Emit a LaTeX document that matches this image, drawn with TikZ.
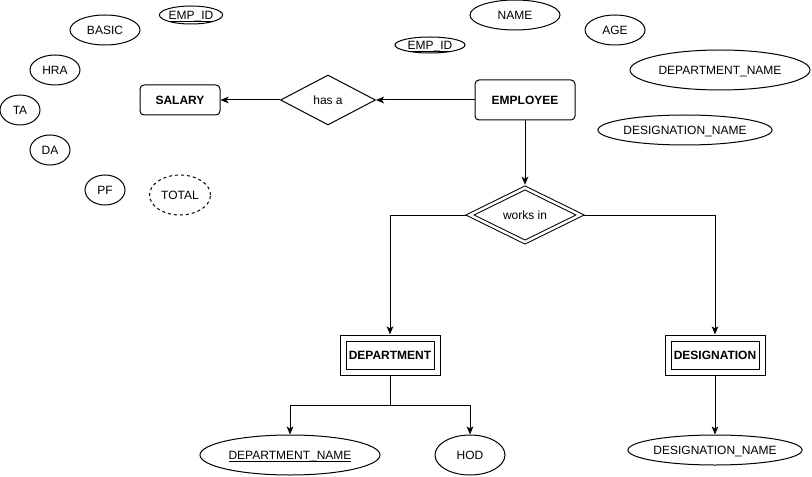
\documentclass[tikz,border=0pt]{standalone}
\usepackage{fontspec}
\setmainfont{Liberation Sans}
\usetikzlibrary{shapes.geometric,arrows.meta}

% key attribute: underline drawn at the height of the underscore glyph
\newcommand{\keyattr}[1]{\setbox0\hbox{#1}\rlap{\rule[-1.9pt]{\wd0}{0.45pt}}\box0}

\tikzset{
  base/.style={line width=0.75pt, font=\fontsize{9pt}{11pt}\selectfont, inner sep=0pt},
  attr/.style 2 args={base, draw, ellipse, text height=6.5pt, text depth=0pt,
    minimum width=#1*0.75pt, minimum height=#2*0.75pt},
  derived/.style 2 args={attr={#1}{#2}, dash pattern=on 2.25pt off 2.25pt},
  entity/.style 2 args={base, draw, rectangle, rounded corners=3pt, font=\fontsize{9pt}{11pt}\selectfont\bfseries,
    minimum width=#1*0.75pt, minimum height=#2*0.75pt},
  weakentity/.style={base, draw, rectangle, double, double distance=3.75pt, outer sep=2.7pt,
    font=\fontsize{9pt}{11pt}\selectfont\bfseries, minimum width=70.5pt, minimum height=25.5pt},
  relation/.style 2 args={base, draw, diamond, minimum width=#1*0.75pt, minimum height=#2*0.75pt},
  weakrelation/.style={base, draw, diamond, double, double distance=1.9pt, outer sep=1.7pt,
    minimum width=84pt, minimum height=42pt},
  arr/.style={line width=0.75pt, -{Stealth[length=6pt,width=5pt,inset=1.5pt]}},
}

\begin{document}
\begin{tikzpicture}[x=0.75pt, y=-0.75pt]
  % canvas
  \fill[white] (0,0) rectangle (812,477);
  \useasboundingbox (0,0) rectangle (812,477);

  % salary attributes
  \node[attr={70}{30}]  (basic)  at (105,30)  {BASIC};
  \node[attr={62}{18}]  (sempid) at (191,15)  {\keyattr{EMP\_ID}};
  \node[attr={50}{30}]  (hra)    at (55,70)   {HRA};
  \node[attr={40}{30}]  (ta)     at (20,110)  {TA};
  \node[attr={40}{30}]  (da)     at (50,150)  {DA};
  \node[attr={40}{30}]  (pf)     at (105,190) {PF};
  \node[derived={61}{40}] (total) at (180,195) {TOTAL};

  % employee attributes
  \node[attr={90}{30}]  (name)   at (515,15)  {NAME};
  \node[attr={70}{16}]  (eempid) at (430,45)  {\keyattr{EMP\_ID}};
  \node[attr={60}{30}]  (age)    at (615,30)  {AGE};
  \node[attr={180}{40}] (edname) at (720,70)  {DEPARTMENT\_NAME};
  \node[attr={174}{30}] (edesig) at (685,130) {DESIGNATION\_NAME};

  % entities and relationships
  \node[entity={80}{30}]  (sal)  at (180,100) {SALARY};
  \node[relation={95}{50}] (hasa) at (328,100) {has a};
  \node[entity={100}{40}] (emp)  at (525,100) {EMPLOYEE};
  \node[weakrelation] (works) at (525,215) {works in};
  \node[weakentity] (dept)  at (390,355) {DEPARTMENT};
  \node[weakentity] (desig) at (715,355) {DESIGNATION};

  % department / designation attributes
  \node[attr={180}{40}] (dname) at (290,455) {\keyattr{DEPARTMENT\_NAME}};
  \node[attr={70}{40}]  (hod)   at (470,455) {HOD};
  \node[attr={170}{30}] (gname) at (715,450) {DESIGNATION\_NAME};

  % connectors
  \draw[arr] (emp.west) -- (hasa.east);
  \draw[arr] (hasa.west) -- (sal.east);
  \draw[arr] (emp.south) -- (works.north);
  \draw[arr] (works.west) -| (dept.north);
  \draw[arr] (works.east) -| (desig.north);
  \draw[arr] (dept.south) -- ++(0,30) -| (dname.north);
  \draw[arr] (dept.south) -- ++(0,30) -| (hod.north);
  \draw[arr] (desig.south) -- (gname.north);
\end{tikzpicture}
\end{document}
